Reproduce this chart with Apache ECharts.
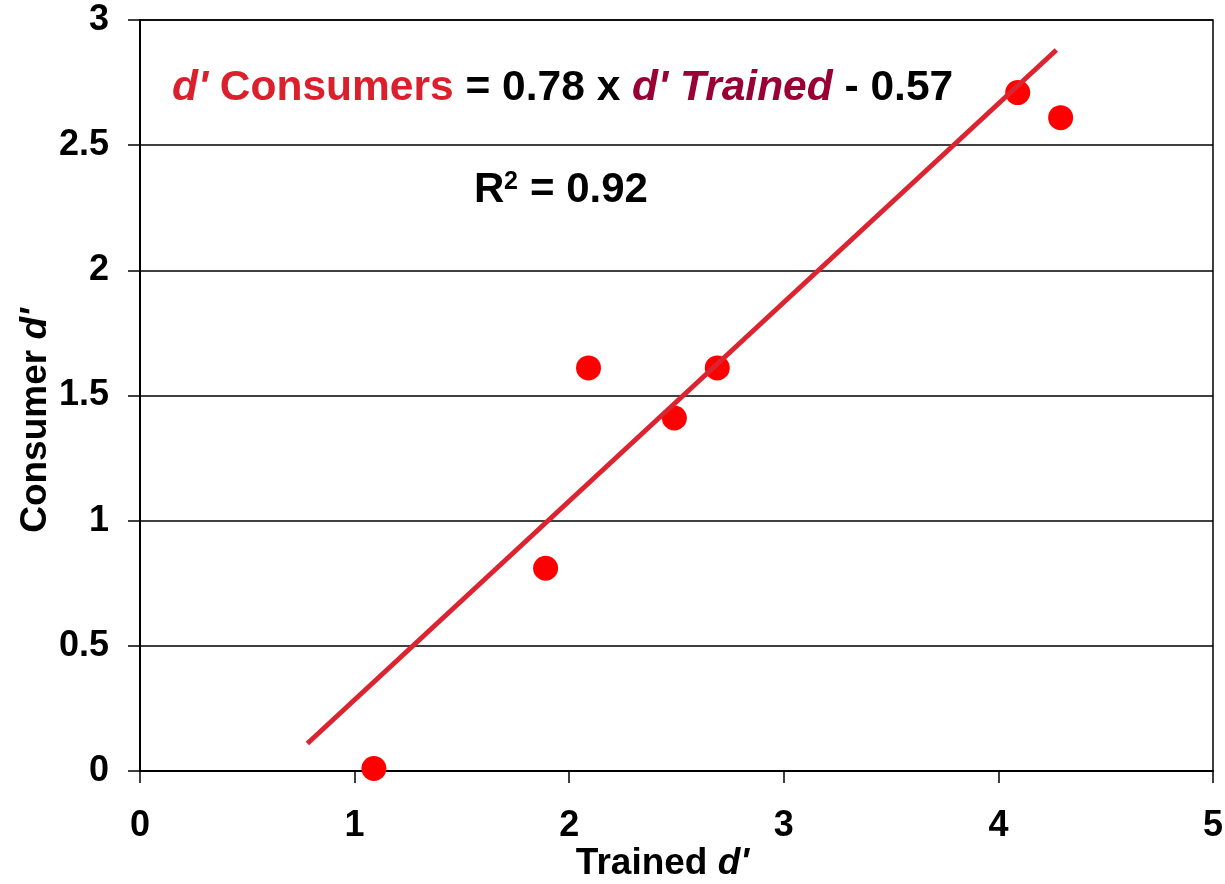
<!DOCTYPE html>
<html>
<head>
<meta charset="utf-8">
<script src="https://cdn.jsdelivr.net/npm/echarts@6/dist/echarts.min.js"></script>
<style>
  html, body { margin: 0; padding: 0; background: #fff; }
  #chart { width: 1225px; height: 884px; }
</style>
</head>
<body>
<div id="chart"></div>
<script>
// data
var trainedD = [1.09, 1.89, 2.09, 2.49, 2.69, 4.09, 4.29];
var consumerD = [0.01, 0.81, 1.61, 1.41, 1.61, 2.71, 2.61];
// fitted line end points
var fitX = [0.78, 4.27];
var fitY = [0.11, 2.88];
var xTicks = [0, 1, 2, 3, 4, 5];
var yTicks = [0, 0.5, 1, 1.5, 2, 2.5, 3];

var font = '"Liberation Sans", Arial, sans-serif';

var points = trainedD.map(function (x, i) { return [x, consumerD[i]]; });
var fitLine = fitX.map(function (x, i) { return [x, fitY[i]]; });

var myChart = echarts.init(document.getElementById('chart'));
myChart.setOption({
  animation: false,
  backgroundColor: '#fff',
  grid: {
    left: 140,
    right: 12,
    top: 20,
    bottom: 113,
    outerBoundsMode: 'none',
    containLabel: false,
    show: true,
    borderColor: '#000',
    borderWidth: 1.5
  },
  xAxis: {
    type: 'value',
    min: xTicks[0],
    max: xTicks[xTicks.length - 1],
    interval: 1,
    name: "Trained {i|d'}",
    nameLocation: 'middle',
    nameGap: 74,
    nameMoveOverlap: false,
    nameTextStyle: {
      fontFamily: font,
      fontWeight: 'bold',
      fontSize: 37,
      color: '#000',
      padding: [0, 28, 0, 0],
      rich: {
        i: { fontFamily: font, fontWeight: 'bold', fontStyle: 'italic', fontSize: 37, color: '#000' }
      }
    },
    axisLine: { lineStyle: { color: '#000', width: 2 } },
    axisTick: { show: true, inside: false, length: 12, lineStyle: { color: '#000', width: 1.5 } },
    axisLabel: {
      margin: 37,
      fontFamily: font,
      fontWeight: 'bold',
      fontSize: 36,
      color: '#000'
    },
    splitLine: { show: false }
  },
  yAxis: {
    type: 'value',
    min: yTicks[0],
    max: yTicks[yTicks.length - 1],
    interval: 0.5,
    name: "Consumer {i|d'}",
    nameLocation: 'middle',
    nameGap: 86,
    nameMoveOverlap: false,
    nameRotate: 90,
    nameTextStyle: {
      fontFamily: font,
      fontWeight: 'bold',
      fontSize: 37,
      color: '#000',
      padding: [0, 50, 0, 0],
      rich: {
        i: { fontFamily: font, fontWeight: 'bold', fontStyle: 'italic', fontSize: 37, color: '#000' }
      }
    },
    axisLine: { show: true, lineStyle: { color: '#000', width: 2 } },
    axisTick: { show: true, inside: false, length: 12, lineStyle: { color: '#000', width: 1.5 } },
    axisLabel: {
      margin: 31,
      fontFamily: font,
      fontWeight: 'bold',
      fontSize: 36,
      color: '#000'
    },
    splitLine: { show: true, lineStyle: { color: '#000', width: 1.5 } }
  },
  graphic: [{
    type: 'text',
    left: 172,
    top: 67,
    style: {
      text: "{r|d'}{rn| Consumers}{b| = 0.78 x }{m|d' Trained}{b| - 0.57}",
      rich: {
        r: { fontFamily: font, fontWeight: 'bold', fontStyle: 'italic', fontSize: 42.5, fill: '#dc1f2d' },
        rn: { fontFamily: font, fontWeight: 'bold', fontSize: 42.5, fill: '#dc1f2d' },
        b: { fontFamily: font, fontWeight: 'bold', fontSize: 42.5, fill: '#000' },
        m: { fontFamily: font, fontWeight: 'bold', fontStyle: 'italic', fontSize: 42.5, fill: '#990033' }
      }
    }
  }, {
    type: 'text',
    left: 474,
    top: 169,
    style: { text: 'R', fontFamily: font, fontWeight: 'bold', fontSize: 42, fill: '#000' }
  }, {
    type: 'text',
    left: 504,
    top: 170,
    style: { text: '2', fontFamily: font, fontWeight: 'bold', fontSize: 25, fill: '#000' }
  }, {
    type: 'text',
    left: 530,
    top: 169,
    style: { text: '= 0.92', fontFamily: font, fontWeight: 'bold', fontSize: 42, fill: '#000' }
  }],
  series: [{
    name: 'points',
    type: 'scatter',
    symbol: 'circle',
    symbolSize: 25,
    itemStyle: { color: '#ff0000', opacity: 1 },
    z: 2,
    data: points
  }, {
    name: 'fit',
    type: 'line',
    showSymbol: false,
    symbol: 'none',
    lineStyle: { color: '#dc2330', width: 5 },
    z: 3,
    data: fitLine
  }]
});

window.addEventListener('resize', function () {
  myChart.resize();
});
</script>
</body>
</html>
